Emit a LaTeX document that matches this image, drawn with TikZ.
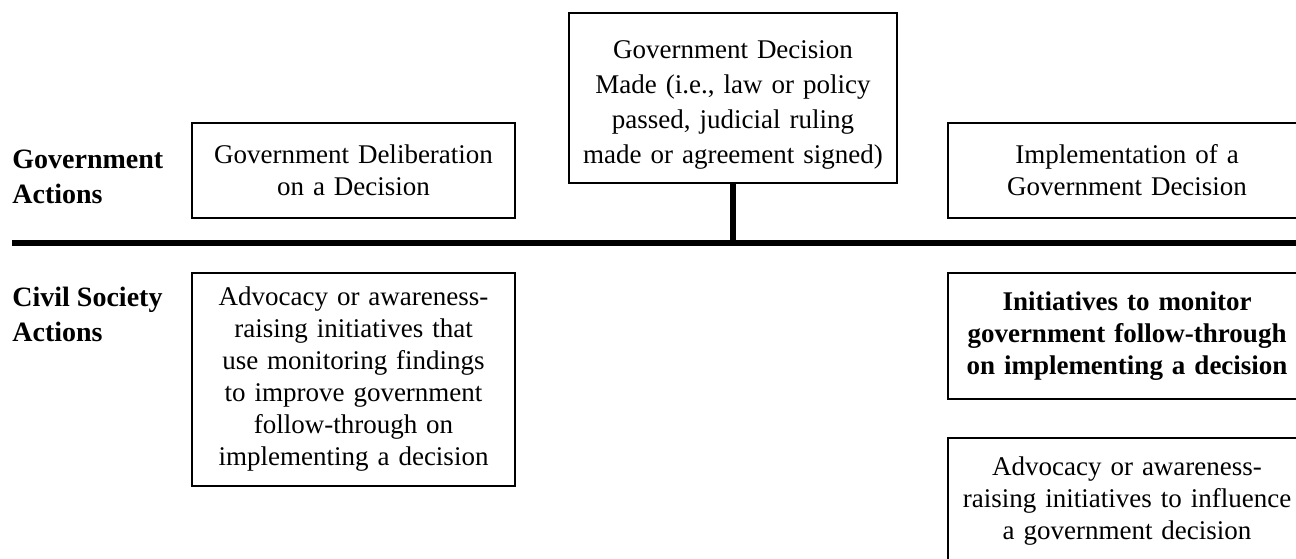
\documentclass[tikz,border=0pt]{standalone}
\usepackage{fontspec}
\setmainfont{Liberation Serif}
\tikzset{
  gbox/.style={draw, line width=0.6pt, align=center, inner sep=0pt,
    font=\fontsize{13.5}{16}\selectfont},
  rowlabel/.style={anchor=west, align=left, inner sep=0pt,
    font=\fontsize{14}{17.5}\selectfont\bfseries},
  timeline/.style={line width=2.6pt}
}
\begin{document}
\begin{tikzpicture}[x=0.5pt,y=-0.5pt]
      \useasboundingbox (0,0) rectangle (1296,558);
      \clip (0,0) rectangle (1296,558);
      % row labels
      \node[rowlabel] (govlabel) at (12,177) {Government\\Actions};
      \node[rowlabel] (cslabel) at (12,314.5) {Civil Society\\Actions};
      % government actions
      \node[gbox, minimum width=161.5pt, minimum height=47.5pt, text width=153pt]
        (deliberation) at (353.5,170.5) {Government Deliberation\\on a Decision};
      \node[gbox, minimum width=164pt, minimum height=85pt, text width=156pt,
        font=\fontsize{13.5}{17.5}\selectfont]
        (decision) at (733,98) {\rule{0pt}{16pt}Government Decision\\Made (i.e., law or policy\\passed, judicial ruling\\made or agreement signed)};
      \node[gbox, minimum width=179pt, minimum height=47.5pt, text width=171pt]
        (implement) at (1127,170.5) {Implementation of a\\Government Decision};
      % civil society actions
      \node[gbox, minimum width=161.5pt, minimum height=106.5pt, text width=153pt]
        (usefindings) at (353.5,379.5) {Advocacy or awareness-\\raising initiatives that\\use monitoring findings\\to improve government\\follow-through on\\implementing a decision};
      \node[gbox, minimum width=179pt, minimum height=63pt, text width=171pt]
        (monitor) at (1127,336) {\bfseries Initiatives to monitor\\\bfseries government follow-through\\\bfseries on implementing a decision};
      \node[gbox, minimum width=179pt, minimum height=63pt, text width=171pt]
        (influence) at (1127,501) {Advocacy or awareness-\\raising initiatives to influence\\a government decision};
      % time line
      \coordinate (lstart) at (12,243);
      \coordinate (lend) at (1300,243);
      \coordinate (stem) at (decision.south |- lstart);
      \begin{scope}[timeline]
        \draw (lstart) to (lend);
        \draw (decision.south) to (stem);
      \end{scope}
    \end{tikzpicture}
\end{document}
